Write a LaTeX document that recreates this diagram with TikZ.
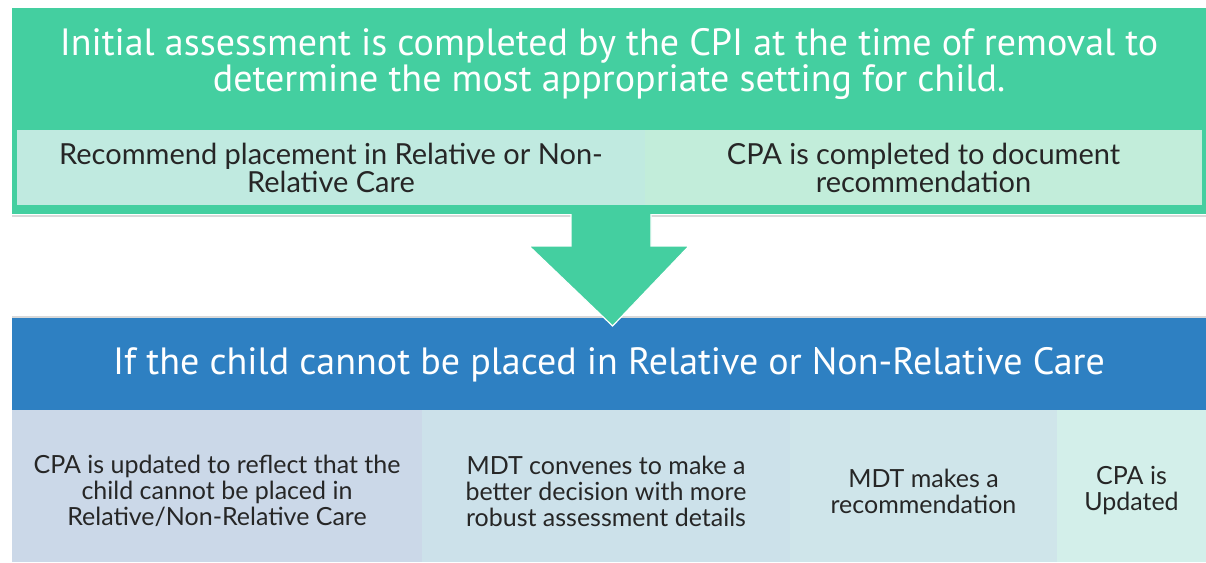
\documentclass[tikz,border=0pt]{standalone}
\usepackage{fontspec}
\setmainfont{Lato}
\newfontfamily\headfont{PT Sans}
\usepackage{tikz}
\usetikzlibrary{calc,positioning}
\definecolor{topgreen}{RGB}{68,207,160}
\definecolor{paleA}{RGB}{192,234,224}
\definecolor{paleB}{RGB}{194,237,218}
\definecolor{midblue}{RGB}{46,128,194}
\definecolor{cellA}{RGB}{203,216,232}
\definecolor{cellB}{RGB}{204,225,234}
\definecolor{cellC}{RGB}{207,229,234}
\definecolor{cellD}{RGB}{211,239,234}
\tikzset{panel/.style={anchor=north west,inner sep=0pt,outer sep=0pt},
  headtext/.style={text=white,font=\headfont\fontsize{38}{36}\selectfont,align=center},
  celltext/.style={text=black!85,align=center,font=\fontsize{29}{28}\selectfont},
  stepcell/.style={text=black!85,align=center,font=\fontsize{25}{26}\selectfont}}

\begin{document}
\begin{tikzpicture}[x=1pt,y=-1pt]
\useasboundingbox[fill=white] (0,0) rectangle (1206,562);

% Panels
\node[panel,fill=topgreen,minimum width=1194pt,minimum height=206pt] (top) at (12,8) {};
\node[panel,fill=paleA,minimum width=628pt,minimum height=75pt] (rec) at (17,130) {};
\node[panel,fill=paleB,minimum width=557pt,minimum height=75pt] (cpa) at (645,130) {};

\node[panel,fill=midblue,minimum width=1194pt,minimum height=93pt] (cond) at (12,318) {};
\node[panel,fill=cellA,minimum width=410pt,minimum height=152pt] (step1) at (12,410) {};
\node[panel,fill=cellB,minimum width=368pt,minimum height=152pt] (step2) at (422,410) {};
\node[panel,fill=cellC,minimum width=267pt,minimum height=152pt] (step3) at (790,410) {};
\node[panel,fill=cellD,minimum width=149pt,minimum height=152pt] (step4) at (1057,410) {};

% Shadow lines
\draw[black!15,line width=1.5pt] (top.south west) ++(0,2) -- ($(top.south east)+(0,2)$);
\draw[black!15,line width=1.5pt] (cond.north west) ++(0,-1) -- ($(cond.north east)+(0,-1)$);

% Arrow
\coordinate (tip) at ($(cond.north west)!0.503!(cond.north east)+(0,8)$);
\fill[topgreen] ($(top.south)+(-38,-2)$) rectangle ($(top.south)+(42,1)$);
\draw[white,line width=1.2pt,fill=topgreen,line join=miter]
  ($(top.south)+(-38,0)$) -- ($(top.south)+(-38,32)$) -- ($(top.south)+(-80,32)$)
  -- (tip) -- ($(top.south)+(80,32)$) -- ($(top.south)+(42,32)$) -- ($(top.south)+(42,0)$);

% Labels
\node[headtext] (toptitle) at ($(top.north)+(0,56)$)
  {Initial assessment is completed by the CPI at the time of removal to\\determine the most appropriate setting for child.};
\node[celltext] (reclab) at (rec.center) {Recommend placement in Relative or Non-\\Relative Care};
\node[celltext] (cpalab) at (cpa.center) {CPA is completed to document\\recommendation};

\node[headtext] (condtitle) at ($(cond.center)+(0,0)$) {If the child cannot be placed in Relative or Non-Relative Care};
\node[stepcell] (lab1) at ($(step1.center)+(0,5)$) {CPA is updated to reflect that the\\child cannot be placed in\\Relative/Non-Relative Care};
\node[stepcell] (lab2) at ($(step2.center)+(0,5)$) {MDT convenes to make a\\better decision with more\\robust assessment details};
\node[stepcell] (lab3) at ($(step3.center)+(0,5)$) {MDT makes a\\recommendation};
\node[stepcell] (lab4) at ($(step4.center)+(0,5)$) {CPA is\\Updated};

\end{tikzpicture}
\end{document}
